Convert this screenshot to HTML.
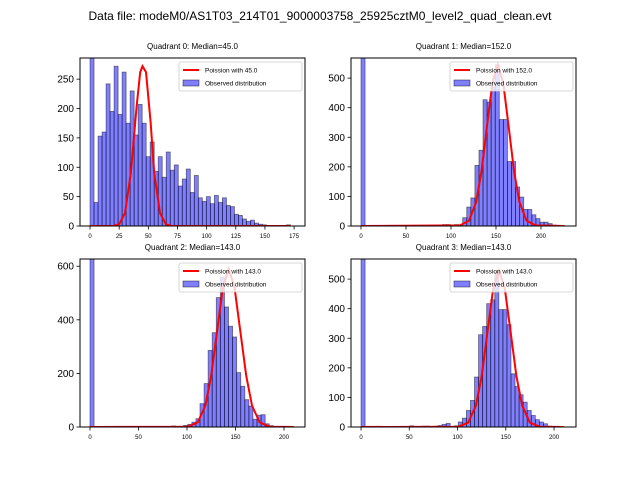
<!DOCTYPE html>
<html><head><meta charset="utf-8"><style>
body{margin:0;background:#fff}
svg{display:block;font-family:"Liberation Sans","DejaVu Sans",sans-serif}
</style></head><body>
<svg id="fig" width="640" height="480" viewBox="0 0 640 480">
<text x="320" y="20" text-anchor="middle" font-size="12">Data file: modeM0/AS1T03_214T01_9000003758_25925cztM0_level2_quad_clean.evt</text>
</svg>
<script>
// Quadrant 0
const q0Counts=[290,40,153,160,242,195,272,190,262,175,230,155,207,175,118,143,93,118,83,126,95,104,68,80,97,57,86,48,42,50,38,52,40,48,35,33,20,18,12,8,10,5,3,2,1,0,0,0,0,2];
const q0CurveX=[0,20,25,30,35,40,43,45,48,52,55,60,65,70,172];
const q0CurveY=[0,0,3,22,90,205,262,272,262,175,90,22,3,0,0];
const q0XTicks=[0,25,50,75,100,125,150,175];
const q0YTicks=[0,50,100,150,200,250];
// Quadrant 1
const q1Counts=[700,0,0,0,0,0,0,0,0,0,0,0,0,0,0,0,0,0,0,0,5,5,0,5,0,28,64,95,205,256,427,419,470,545,360,360,218,218,132,98,56,56,38,25,13,13,8,3,2,1];
const q1CurveX=[0,110,120,128,134,140,146,152,158,164,170,176,184,194,226];
const q1CurveY=[0,2,18,81,187,338,484,545,484,338,187,81,18,2,0];
const q1XTicks=[0,50,100,150,200];
const q1YTicks=[0,100,200,300,400,500];
// Quadrant 2
const q2Counts=[700,0,0,0,0,0,0,0,0,0,0,0,0,0,0,0,0,0,0,0,4,0,3,6,10,18,31,87,162,286,352,483,560,448,376,336,203,152,102,78,29,44,46,12,5,0,0,0,0,1];
const q2CurveX=[0,101,111,119,125,131,137,143,149,155,161,167,175,185,210];
const q2CurveY=[0,1,17,80,192,358,521,590,521,358,192,80,17,1,0];
const q2XTicks=[0,50,100,150,200];
const q2YTicks=[0,200,400,600];
// Quadrant 3
const q3Counts=[700,0,0,0,0,0,0,0,0,0,0,0,4,0,0,3,3,0,3,5,9,12,0,4,17,30,56,90,169,312,340,417,430,524,397,397,346,180,137,109,84,56,39,25,17,11,3,0,0,0];
const q3CurveX=[0,101,111,119,125,131,137,143,149,155,161,167,175,185,210];
const q3CurveY=[0,1,15,72,172,322,468,530,468,322,172,72,15,1,0];
const q3XTicks=[0,50,100,150,200];
const q3YTicks=[0,100,200,300,400,500];

const NS="http://www.w3.org/2000/svg";
const fig=document.getElementById('fig');
function mk(tag,attrs,parent){const e=document.createElementNS(NS,tag);for(const k in attrs)e.setAttribute(k,attrs[k]);(parent||fig).appendChild(e);return e;}

function panel(idx,box,counts,xmax,xmin0,xspan,ymax,curveX,curveY,xTicks,yTicks,lam,median){
  const g=mk('g',{});
  
  
  const L=box[0],T=box[1],R=box[2],B=box[3];
  const xs=v=>L+(v-xmin0)/xspan*(R-L);
  const ys=v=>B-Math.min(v,ymax*1.02)/ymax*(B-T);
  const cp=mk('clipPath',{id:'cp'+idx},g);mk('rect',{x:L,y:T,width:R-L,height:B-T},cp);
  const bars=mk('g',{'clip-path':'url(#cp'+idx+')'},g);
  const bw=xmax/counts.length;
  counts.forEach((c,i)=>{
    if(c<=0)return;
    const x0=xs(i*bw),x1=xs((i+1)*bw);
    const r=mk('rect',{x:x0,y:ys(c),width:x1-x0,height:B-ys(c),fill:'rgba(0,0,255,0.5)',stroke:'rgba(0,0,0,0.5)','stroke-width':0.8},bars);
    
    
  });
  let d='';curveX.forEach((x,i)=>{d+=(i?'L':'M')+xs(x).toFixed(1)+' '+ys(curveY[i]).toFixed(1);});
  const p=mk('path',{d:d,fill:'none',stroke:'red','stroke-width':2,'clip-path':'url(#cp'+idx+')'},g);
  
  
  const fr=mk('rect',{x:L,y:T,width:R-L,height:B-T,fill:'none',stroke:'#000','stroke-width':1},g);
  
  
  xTicks.forEach(t=>{
    const x=xs(t);
    mk('line',{x1:x,y1:B,x2:x,y2:B+3.5,stroke:'#000','stroke-width':0.8},g);
    const tx=mk('text',{x:x,y:B+12,'text-anchor':'middle','font-size':6},g);tx.textContent=t;
    
    
  });
  yTicks.forEach(t=>{
    const y=ys(t);
    mk('line',{x1:L-3.5,y1:y,x2:L,y2:y,stroke:'#000','stroke-width':0.8},g);
    const tx=mk('text',{x:L-6,y:y+3.5,'text-anchor':'end','font-size':10},g);tx.textContent=t;
    
    
  });
  const ti=mk('text',{x:(L+R)/2,y:T-9,'text-anchor':'middle','font-size':8},g);
  ti.textContent='Quadrant '+idx+': Median='+median;
  
  
  const lg=mk('g',{},g);
  
  
  mk('rect',{x:R-126,y:T+4,width:123,height:29,rx:2,fill:'rgba(255,255,255,0.8)',stroke:'#ccc','stroke-width':0.8},lg);
  mk('line',{x1:R-122,y1:T+12,x2:R-106,y2:T+12,stroke:'red','stroke-width':2},lg);
  const l1=mk('text',{x:R-100,y:T+14.5,'font-size':6.5},lg);l1.textContent='Poission with '+lam;
  
  
  mk('rect',{x:R-122,y:T+22,width:16,height:6,fill:'rgba(0,0,255,0.5)',stroke:'rgba(0,0,0,0.6)','stroke-width':0.7},lg);
  const l2=mk('text',{x:R-100,y:T+27.5,'font-size':6.5},lg);l2.textContent='Observed distribution';
  
  
}
// box: left, top, right, bottom ; x mapping via xmin0/xspan
panel(0,[80,58,305,226],q0Counts,172,-8.6,(305-80)/1.166,286,q0CurveX,q0CurveY,q0XTicks,q0YTicks,'45.0','45.0');
panel(1,[351,58,576,226],q1Counts,226,-11.1,(576-351)/0.9,568,q1CurveX,q1CurveY,q1XTicks,q1YTicks,'152.0','152.0');
panel(2,[80,259,305,427],q2Counts,210,-10.3,(305-80)/0.97,627,q2CurveX,q2CurveY,q2XTicks,q2YTicks,'143.0','143.0');
panel(3,[351,259,576,427],q3Counts,210,-10.4,(576-351)/0.965,568,q3CurveX,q3CurveY,q3XTicks,q3YTicks,'143.0','143.0');
</script>
</body></html>
